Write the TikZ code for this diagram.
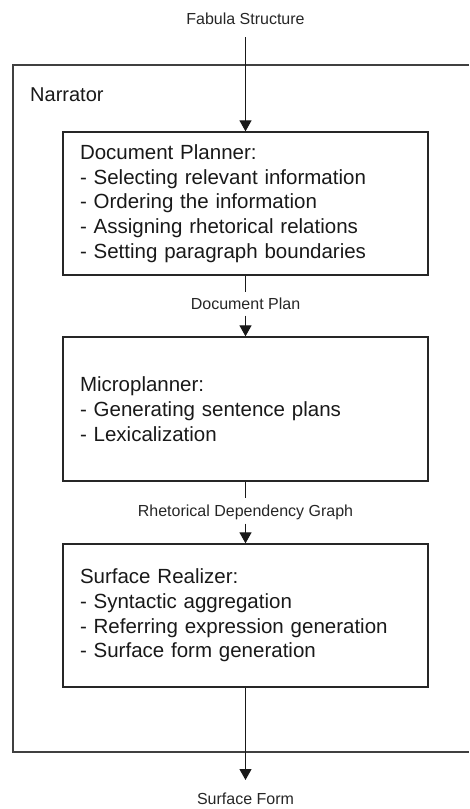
\documentclass[tikz,border=0pt]{standalone}
\usepackage{fontspec}
\setmainfont{Liberation Sans}
\usetikzlibrary{arrows.meta}
\begin{document}
\begin{tikzpicture}[x=1pt,y=-1pt,
  stagebox/.style={draw=black!85, line width=1.3pt, rectangle, text width=331pt,
    inner xsep=17pt, inner ysep=0pt, minimum height=143pt, align=left,
    font=\fontsize{20.5}{24.7}\selectfont, text=black!90},
  flowlabel/.style={inner sep=0pt, font=\fontsize{16}{18}\selectfont, text=black!85,
    text height=11.5pt, text depth=0pt},
  flow/.style={draw=black!90, line width=1.2pt},
  arr/.style={flow, -{Triangle[width=12pt,length=11pt]}},
  frame/.style={draw=black!75, line width=1.4pt}]
\useasboundingbox (0,0) rectangle (469,809);

% Narrator frame, open on the right
\draw[frame] (469,65) -- (13,65) -- (13,752) -- (469,752);
\node[anchor=base west, inner sep=0pt, font=\fontsize{20}{24}\selectfont, text=black!90]
  (narr) at (30,101) {Narrator};

% Input label
\node[flowlabel, minimum height=24pt] (fab) at (245.5,19) {Fabula Structure};
\coordinate (fabend) at (245.5,37);

% Pipeline stages
\node[stagebox] (dp) at (245.5,203.5) {Document Planner:\\
- Selecting relevant information\\
- Ordering the information\\
- Assigning rhetorical relations\\
- Setting paragraph boundaries};

\node[stagebox, minimum height=144pt] (mp) at (245.5,409) {Microplanner:\\
- Generating sentence plans\\
- Lexicalization};

\node[stagebox] (sr) at (245.5,615.5) {Surface Realizer:\\
- Syntactic aggregation\\
- Referring expression generation\\
- Surface form generation};

% Intermediate data labels
\node[flowlabel, minimum height=23pt] (docplan) at (245.5,304) {Document Plan};
\node[flowlabel, minimum height=25pt] (rdg) at (245.5,511) {Rhetorical Dependency Graph};
\node[flowlabel, anchor=north, minimum height=38pt] (sf) at (245.5,780) {Surface Form};

% Connectors
\draw[arr] (fabend) -- (dp.north);
\draw[flow] (dp.south) -- (docplan.north);
\draw[arr] (docplan.south) -- (mp.north);
\draw[flow] (mp.south) -- (rdg.north);
\draw[arr] (rdg.south) -- (sr.north);
\draw[arr] (sr.south) -- (sf.north);
\end{tikzpicture}
\end{document}
